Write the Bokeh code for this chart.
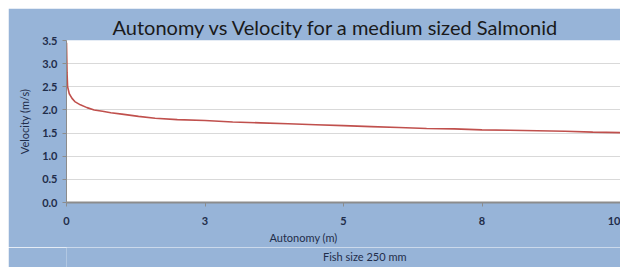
from bokeh.plotting import figure
from bokeh.layouts import column
from bokeh.models import (Range1d, FixedTicker, Legend, LegendItem, Title, ColumnDataSource)
from bokeh.embed import file_html
from bokeh.resources import INLINE

# Data
autonomy = [0.0, 0.01, 0.02, 0.05, 0.1, 0.15, 0.25, 0.37, 0.5, 0.65, 0.8, 1.0, 1.3, 1.6,
            2.0, 2.5, 3.0, 3.5, 4.0, 4.5, 5.0, 5.5, 6.0, 6.5, 7.0, 7.5, 8.0, 8.5, 9.0, 9.5, 10.0]
velocity = [3.45, 2.8, 2.5, 2.35, 2.25, 2.18, 2.11, 2.05, 2.00, 1.97, 1.94, 1.91, 1.86, 1.82,
            1.79, 1.77, 1.74, 1.72, 1.70, 1.68, 1.66, 1.64, 1.62, 1.60, 1.59, 1.57, 1.56, 1.55,
            1.54, 1.52, 1.51]
x_ticks = [0, 2.5, 5, 7.5, 10]
x_tick_labels = ["0", "3", "5", "8", "10"]
y_ticks = [0, 0.5, 1.0, 1.5, 2.0, 2.5, 3.0, 3.5]
y_tick_labels = ["0.0", "0.5", "1.0", "1.5", "2.0", "2.5", "3.0", "3.5"]
series_name = "Fish size 250 mm"
title = "Autonomy vs Velocity for a medium sized Salmonid"
x_label = "Autonomy (m)"
y_label = "Velocity (m/s)"

BG = "#97b4d8"
TXT = "#1f2d4a"
FONT = "Lato"
LINE = "#c0504d"

p = figure(frame_width=554, frame_height=162, output_backend="svg", toolbar_location=None,
           x_range=Range1d(0, 10), y_range=Range1d(0, 3.5),
           min_border_left=58, min_border_right=0, min_border_top=32, min_border_bottom=45)
p.margin = (8, 0, 0, 8)
p.background_fill_color = "white"
p.border_fill_color = BG
p.outline_line_color = None

p.title.text = title
p.title.text_font = FONT
p.title.text_font_size = "20px"
p.title.text_font_style = "normal"
p.title.text_color = "#1a1a1a"
p.title.align = "left"
p.title.offset = 46
p.title.standoff = 3

src = ColumnDataSource(dict(x=autonomy, y=velocity))
r = p.line("x", "y", source=src, line_color=LINE, line_width=1.6)

p.xaxis.ticker = FixedTicker(ticks=x_ticks)
p.xaxis.major_label_overrides = {t: l for t, l in zip(x_ticks, x_tick_labels)}
p.yaxis.ticker = FixedTicker(ticks=y_ticks)
p.yaxis.major_label_overrides = {t: l for t, l in zip(y_ticks, y_tick_labels)}

for ax in (p.xaxis[0], p.yaxis[0]):
    ax.major_label_text_font = FONT
    ax.major_label_text_font_size = "11px"
    ax.major_label_text_font_style = "bold"
    ax.major_label_text_color = TXT
    ax.axis_line_color = "#8c8c8c"
    ax.major_tick_line_color = "#8c8c8c"
    ax.major_tick_in = 0
    ax.major_tick_out = 4
    ax.minor_tick_line_color = None
p.xaxis.axis_line_width = 2
p.xaxis.major_label_standoff = 10
p.yaxis.major_label_standoff = 5

p.yaxis.axis_label = y_label
p.yaxis.axis_label_text_font = FONT
p.yaxis.axis_label_text_font_size = "11px"
p.yaxis.axis_label_text_font_style = "normal"
p.yaxis.axis_label_text_color = TXT
p.yaxis.axis_label_standoff = 8

p.xgrid.grid_line_color = None
p.ygrid.grid_line_color = "#d9d9d9"

xt = Title(text=x_label, align="left", offset=203, text_font=FONT, text_font_size="11px",
           text_font_style="normal", text_color=TXT, standoff=2)
p.add_layout(xt, "below")

# Legend strip below the chart
lg = figure(width=612, height=20, output_backend="svg", toolbar_location=None,
            x_axis_type=None, y_axis_type=None, x_range=Range1d(0, 1), y_range=Range1d(0, 1),
            min_border_left=0, min_border_right=0, min_border_top=0, min_border_bottom=0)
lg.margin = (0, 0, 0, 8)
lg.background_fill_color = BG
lg.border_fill_color = BG
lg.outline_line_color = None
lg.xgrid.visible = False
lg.ygrid.visible = False
key = lg.line(x=[], y=[], line_color=LINE, line_width=1.6)

legend = Legend(items=[LegendItem(label=series_name, renderers=[key])],
                location=(239, 4), orientation="horizontal",
                background_fill_alpha=0, border_line_color=None,
                label_text_font=FONT, label_text_font_size="11px", label_text_color=TXT,
                glyph_width=16, glyph_height=12, label_standoff=2, padding=0, margin=0,
                label_height=12)
lg.add_layout(legend, "center")

layout = column(p, lg, spacing=0)
open("out.html", "w").write(file_html(layout, INLINE))
